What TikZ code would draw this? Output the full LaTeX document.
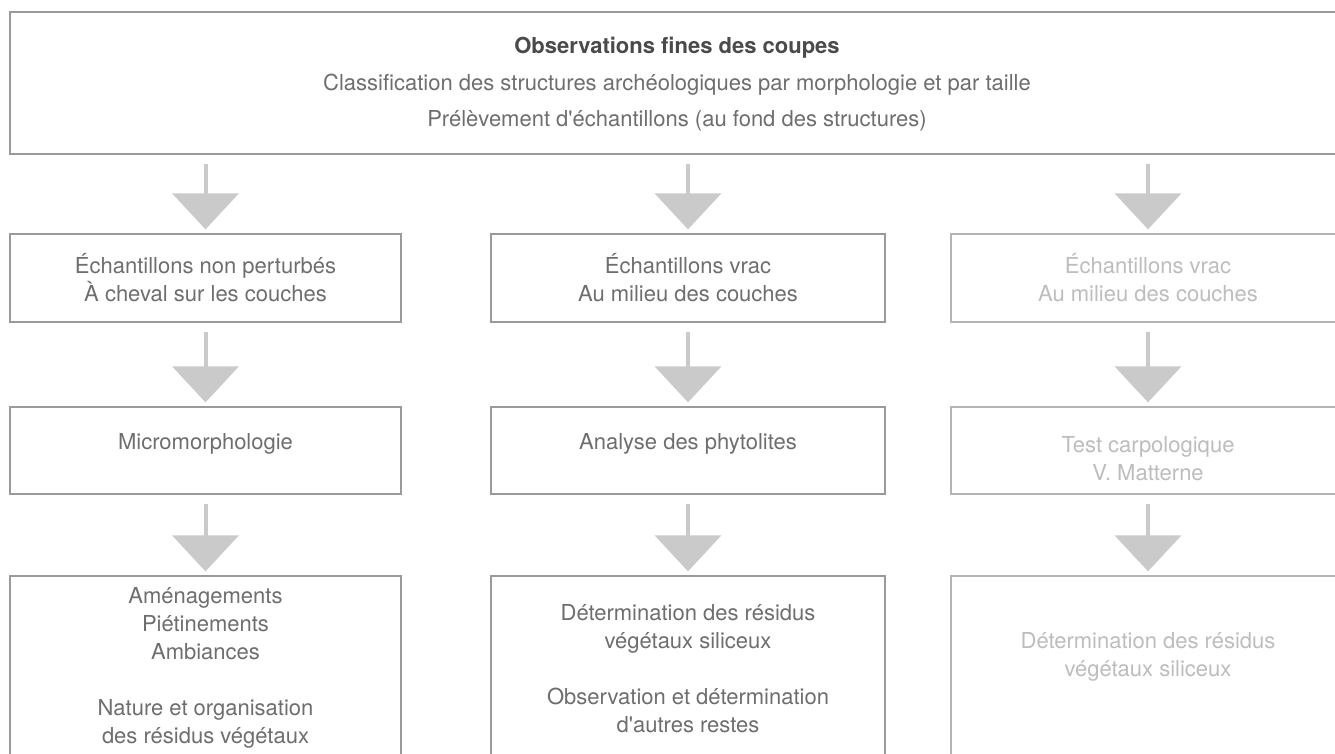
\documentclass[tikz,border=0pt]{standalone}
\usepackage{fontspec}
\setmainfont{TeX Gyre Heros}[Ligatures=TeXOff]
\usetikzlibrary{arrows.meta}
\definecolor{txt}{HTML}{6E6E6E}
\definecolor{ttl}{HTML}{4A4A4A}
\definecolor{lighttxt}{HTML}{BDBDBD}
\definecolor{bord}{HTML}{9A9A9A}
\definecolor{lightbord}{HTML}{B4B4B4}
\definecolor{arr}{HTML}{CACACA}
\tikzset{
  box/.style={draw=bord, line width=1.3pt, rectangle, inner sep=0pt},
  lbox/.style={box, draw=lightbord},
  lbl/.style={text=txt, align=center, font=\fontsize{22}{28}\selectfont},
  llbl/.style={lbl, text=lighttxt},
  flow/.style={draw=arr, line width=4pt,
    -{Triangle[width=66pt,length=36pt]}, shorten <=9pt, shorten >=4pt},
}
\begin{document}
\begin{tikzpicture}[x=1pt,y=-1pt]
\useasboundingbox (0,0) rectangle (1335,753);
\clip (0,0) rectangle (1335,753);
\fill[white] (0,0) rectangle (1335,753);
% top box
\node[box, minimum width=1335pt, minimum height=142pt] (top) at (677.5,83) {};
\node[text=ttl, font=\fontsize{22}{28}\selectfont\bfseries] (t1) at (677,48) {Observations fines des coupes};
\node[lbl] (t2) at (677,85) {Classification des structures archéologiques par morphologie et par taille};
\node[lbl] (t3) at (677,121) {Prélèvement d'échantillons (au fond des structures)};
% row 1
\node[box, minimum width=391pt, minimum height=88pt] (a1) at (205.5,278) {};
\node[box, minimum width=394pt, minimum height=88pt] (b1) at (688,278) {};
\node[lbox, minimum width=394pt, minimum height=88pt] (c1) at (1148,278) {};
\node[lbl] (a1t) at (205.5,278) {Échantillons non perturbés\\À cheval sur les couches};
\node[lbl] (b1t) at (688,278) {Échantillons vrac\\Au milieu des couches};
\node[llbl] (c1t) at (1148,278) {Échantillons vrac\\Au milieu des couches};
% row 2
\node[box, minimum width=391pt, minimum height=87pt] (a2) at (205.5,450.5) {};
\node[box, minimum width=394pt, minimum height=87pt] (b2) at (688,450.5) {};
\node[lbox, minimum width=394pt, minimum height=87pt] (c2) at (1148,450.5) {};
\node[lbl] (a2t) at (205.5,444) {Micromorphologie};
\node[lbl] (b2t) at (688,444) {Analyse des phytolites};
\node[llbl] (c2t) at (1148,459) {Test carpologique\\V. Matterne};
% row 3
\node[box, minimum width=391pt, minimum height=200pt] (a3) at (205.5,676) {};
\node[box, minimum width=394pt, minimum height=200pt] (b3) at (688,676) {};
\node[lbox, minimum width=394pt, minimum height=200pt] (c3) at (1148,676) {};
\node[lbl] (a3t) at (205.5,668) {Aménagements\\Piétinements\\Ambiances\\[28pt]Nature et organisation\\des résidus végétaux};
\node[lbl] (b3t) at (688,669) {Détermination des résidus\\végétaux siliceux\\[28pt]Observation et détermination\\d'autres restes};
\node[llbl] (c3t) at (1148,657) {Détermination des résidus\\végétaux siliceux};
% arrows
\draw[flow] (top.south -| a1.north) -- (a1.north);
\draw[flow] (top.south -| b1.north) -- (b1.north);
\draw[flow] (top.south -| c1.north) -- (c1.north);
\draw[flow] (a1) -- (a2);
\draw[flow] (b1) -- (b2);
\draw[flow] (c1) -- (c2);
\draw[flow] (a2) -- (a3);
\draw[flow] (b2) -- (b3);
\draw[flow] (c2) -- (c3);
\end{tikzpicture}
\end{document}
